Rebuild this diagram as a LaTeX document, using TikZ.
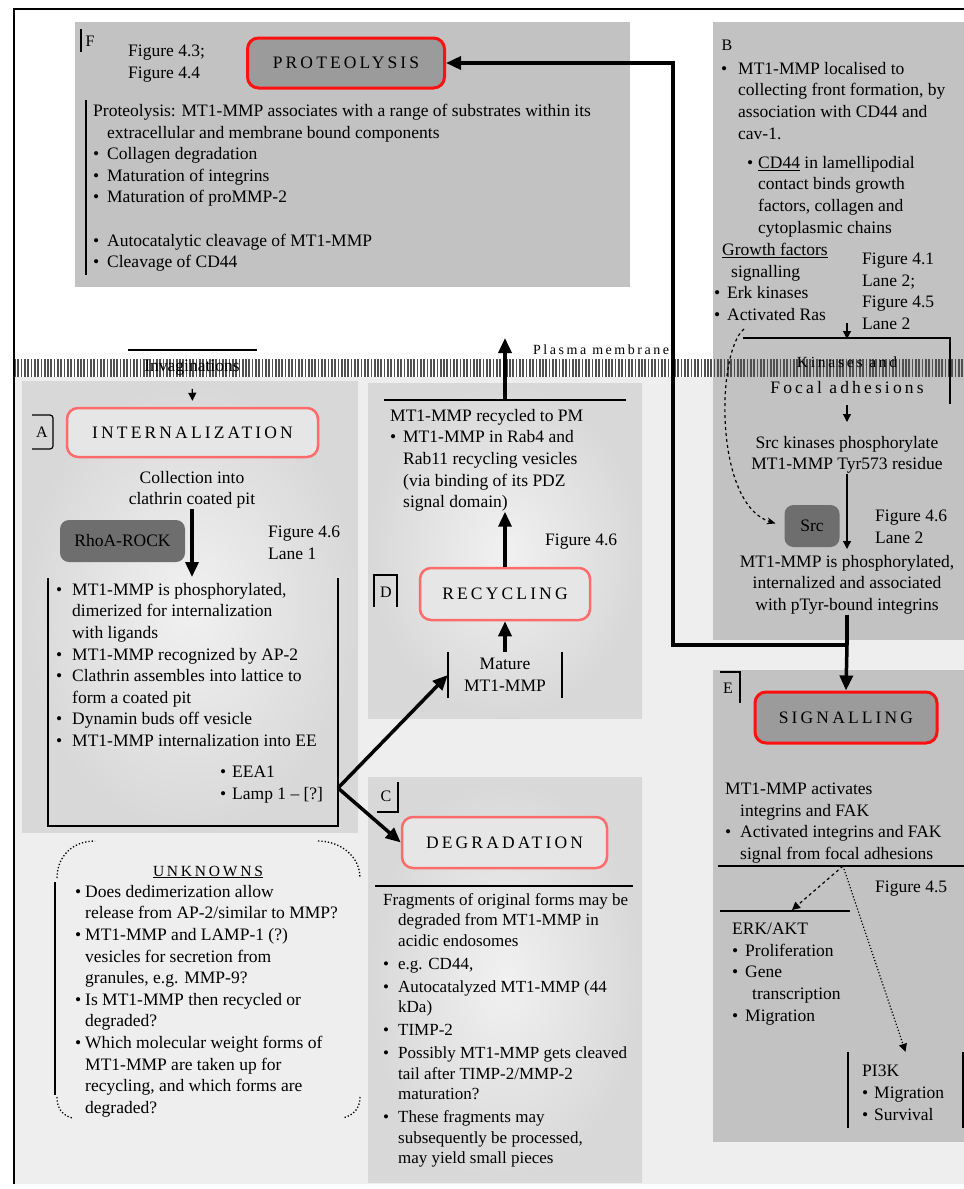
\documentclass[tikz,border=0pt]{standalone}
\usepackage{fontspec}
\setmainfont{Liberation Serif}
\newfontfamily\spacedfont{Liberation Serif}[LetterSpace=18]
\usetikzlibrary{arrows.meta}

\definecolor{panelDark}{HTML}{C2C2C2}
\definecolor{panelIn}{HTML}{F1F1F1}
\definecolor{panelOut}{HTML}{D8D8D8}
\definecolor{bgLight}{HTML}{EEEEEE}
\definecolor{hdrDarkFill}{HTML}{9B9B9B}
\definecolor{hdrLightFill}{HTML}{E6E6E6}
\definecolor{kinaseFill}{HTML}{6E6E6E}
\definecolor{hdrRed}{HTML}{FF1010}
\definecolor{hdrPink}{HTML}{FF6B6B}
\definecolor{stripeGray}{HTML}{505050}

\newcommand{\bodyfont}{\fontsize{17.5}{21.6}\selectfont}
\newcommand{\hdrfont}{\spacedfont\fontsize{17.5}{20}\selectfont}
\newcommand{\bitem}[1][15pt]{\makebox[#1][l]{\textbullet}}
\newcommand{\bcont}[1][15pt]{\hspace*{#1}}

\begin{document}
\begin{tikzpicture}[x=1pt,y=-1pt,
  blk/.style={anchor=north west, inner sep=0pt, align=left, font=\bodyfont},
  cblk/.style={anchor=north, inner sep=0pt, align=center, font=\bodyfont},
  hdr/.style={rounded corners=11pt, font=\hdrfont, inner sep=2pt},
  hdrdark/.style={hdr, fill=hdrDarkFill, draw=hdrRed, line width=3pt},
  hdrlight/.style={hdr, fill=hdrLightFill, draw=hdrPink, line width=2.5pt},
  knode/.style={rounded corners=9pt, fill=kinaseFill, font=\bodyfont, inner sep=2pt},
  tagtext/.style={font=\fontsize{16}{18}\selectfont, inner sep=0pt},
  rule/.style={line width=1.5pt},
  thickline/.style={line width=3.5pt},
  thickarr/.style={line width=3.5pt, -{Triangle[length=15pt,width=13pt]}},
  thinarr/.style={line width=1.2pt, -{Triangle[length=8pt,width=8pt]}},
  stripe/.style={line width=1.7pt, stripeGray}]

\useasboundingbox (0,0) rectangle (964,1189);

% ---------- backgrounds ----------
\fill[white] (0,0) rectangle (964,1189);
\fill[bgLight] (14,377) rectangle (964,1184);

\fill[panelDark] (75,22) rectangle (630,287);
\fill[panelDark] (713,22) rectangle (964,640);
\fill[panelDark] (713,670) rectangle (964,1142);
\shade[inner color=panelIn, outer color=panelOut] (22,381) rectangle (358,832);
\shade[inner color=panelIn, outer color=panelOut] (368,383) rectangle (642,718);
\shade[inner color=panelIn, outer color=panelOut] (368,777) rectangle (642,1182);

% ---------- plasma membrane band ----------
\foreach \x in {15,18.3,...,963} \draw[stripe] (\x,359) -- (\x,377);

% ---------- outer frame ----------
\draw[line width=1.2pt] (14,1184) -- (14,9) -- (964,9);

% ---------- F: proteolysis ----------
\node[tagtext] (tagF) at (90,41) {F};
\draw[line width=1.2pt] (81,29) -- (81,52);
\node[blk] (figF) at (128,45) {Figure 4.3;\\Figure 4.4};
\node[hdrdark, minimum width=197pt, minimum height=50pt] (proteolysis) at (346,63) {PROTEOLYSIS};
\draw[rule] (86,100) -- (86,275);
\node[blk] (protText) at (93,104) {Proteolysis: MT1-MMP associates with a range of substrates within its\\
  \bcont[14pt]extracellular and membrane bound components\\
  \bitem[14pt]Collagen degradation\\
  \bitem[14pt]Maturation of integrins\\
  \bitem[14pt]Maturation of proMMP-2\\[21.6pt]
  \bitem[14pt]Autocatalytic cleavage of MT1-MMP\\
  \bitem[14pt]Cleavage of CD44};

% ---------- B: localisation and focal adhesions ----------
\node[tagtext] (tagB) at (727,45) {B};
\node[blk] (locText) at (721,62) {\bitem[17pt]MT1-MMP localised to\\
  \bcont[17pt]collecting front formation, by\\
  \bcont[17pt]association with CD44 and\\
  \bcont[17pt]cav-1.};
\node[blk] (cdText) at (747,156) {\bitem[11pt]\underline{CD44} in lamellipodial\\
  \bcont[11pt]contact binds growth\\
  \bcont[11pt]factors, collagen and\\
  \bcont[11pt]cytoplasmic chains};
\node[blk] (gfText) at (714,243) {\hspace*{8pt}\underline{Growth factors}\\
  \hspace*{17pt}signalling\\
  \bitem[13pt]Erk kinases\\
  \bitem[13pt]Activated Ras};
\node[blk] (figB) at (862,253) {Figure 4.1\\Lane 2;\\Figure 4.5\\Lane 2};

\draw[rule] (743,338) -- (950,338) -- (950,404);
\coordinate (kinIn) at (847,323);
\coordinate (kinTop) at (847,339);
\draw[thinarr] (kinIn) -- (kinTop);

\node[inner sep=1pt, font=\spacedfont\fontsize{15.5}{18}\selectfont] (kinases) at (847,362) {Kinases and};
\node[inner sep=1pt, font=\spacedfont\fontsize{17.5}{20}\selectfont] (focal) at (847,388) {Focal adhesions};
\node[cblk] (srcA) at (847,436) {Src kinases phosphorylate\\MT1-MMP Tyr573 residue};
\draw[thinarr, shorten <=10pt, shorten >=14pt] (focal.south) -- (srcA.north);

\node[knode, minimum width=55pt, minimum height=42pt] (src) at (812,526) {Src};
\node[blk] (figSrc) at (875,510) {Figure 4.6\\Lane 2};
\node[cblk] (srcB) at (847,555) {MT1-MMP is phosphorylated,\\internalized and associated\\with pTyr-bound integrins};
\draw[thinarr, shorten >=6pt] (srcA.south) -- (srcB.north);

\coordinate (rasEnd) at (744,329);
\draw[dashed, line width=1.2pt, -{Stealth[length=9pt,width=7pt]}, shorten >=9pt]
  (rasEnd) .. controls (716,352) and (714,505) .. (src.west);

% ---------- E: signalling ----------
\node[tagtext] (tagE) at (728,688) {E};
\draw[line width=1.2pt] (720,672) -- (740,672) -- (740,703);
\node[hdrdark, minimum width=182pt, minimum height=51pt] (signalling) at (846,717.5) {SIGNALLING};

\coordinate (sigJ) at (847,645);
\coordinate (protTurn) at (673,645);
\draw[thickline] (srcB.south) -- (sigJ);
\draw[thickarr] (sigJ) -- (signalling.north);
\draw[thickarr] (sigJ) -- (protTurn) |- (proteolysis.east);

\node[blk] (sigText) at (725,783) {MT1-MMP activates\\
  \hspace*{15pt}integrins and FAK\\
  \bitem Activated integrins and FAK\\
  \bcont signal from focal adhesions};
\draw[rule] (718,866) -- (964,866);
\coordinate (sigFork) at (843,866);
\node[blk] (figE) at (875,881) {Figure 4.5};

\draw[rule] (720,911) -- (850,911);
\coordinate (erkTop) at (792,910);
\draw[dashed, thinarr] (sigFork) -- (erkTop);
\node[blk] (erkText) at (732,923) {ERK/AKT\\
  \bitem[13pt]Proliferation\\
  \bitem[13pt]Gene\\
  \bcont[20pt]transcription\\
  \bitem[13pt]Migration};

\node[minimum width=115pt, minimum height=76pt, inner sep=0pt] (pi3k) at (905.5,1090) {};
\draw[rule] (pi3k.north west) -- (pi3k.south west) (pi3k.north east) -- (pi3k.south east);
\draw[dotted, thinarr] (sigFork) -- (pi3k.north);
\node[blk] (pi3kText) at (862,1065) {PI3K\\ \bitem[12pt]Migration\\ \bitem[12pt]Survival};

% ---------- A: internalization ----------
\draw[rule] (128,350) -- (257,350);
\node[font=\bodyfont, inner sep=1pt] (invag) at (192,368) {Invaginations};
\node[tagtext] (tagA) at (42,432) {A};
\draw[line width=1.2pt, rounded corners=3pt] (32,415) -- (53,415) -- (53,449) -- (32,449);
\node[hdrlight, minimum width=251pt, minimum height=49pt] (internalization) at (192.5,432.5) {INTERNALIZATION};
\draw[thinarr, shorten <=12pt, shorten >=6pt] (invag.south) -- (internalization.north);

\node[cblk] (collect) at (192,471) {Collection into\\clathrin coated pit};
\node[knode, minimum width=125pt, minimum height=42pt] (rhoa) at (122.5,541) {RhoA-ROCK};
\coordinate (bracketTop) at (192,577);
\draw[thickarr] (collect.south) -- (bracketTop);
\node[blk] (figA) at (268,526) {Figure 4.6\\Lane 1};

\draw[rule] (48,578) -- (48,826) -- (338,826) -- (338,578);
\node[blk] (intText) at (56,583) {\bitem[16pt]MT1-MMP is phosphorylated,\\
  \bcont[16pt]dimerized for internalization\\
  \bcont[16pt]with ligands\\
  \bitem[16pt]MT1-MMP recognized by AP-2\\
  \bitem[16pt]Clathrin assembles into lattice to\\
  \bcont[16pt]form a coated pit\\
  \bitem[16pt]Dynamin buds off vesicle\\
  \bitem[16pt]MT1-MMP internalization into EE};
\node[blk] (eeText) at (220,766) {\bitem[12pt]EEA1\\ \bitem[12pt]Lamp 1 -- [?]};

% ---------- D: recycling ----------
\node[font=\bodyfont, align=center, minimum width=114pt, minimum height=46pt, inner sep=0pt] (mature) at (505,675) {Mature\\MT1-MMP};
\draw[rule] (mature.north west) -- (mature.south west) (mature.north east) -- (mature.south east);
\node[tagtext] (tagD) at (386,592) {D};
\draw[line width=1.2pt] (374,607) -- (374,575) -- (397,575) -- (397,607);
\node[hdrlight, minimum width=170pt, minimum height=52pt] (recycling) at (505,594) {RECYCLING};
\draw[thickarr] (mature.north) -- (recycling.south);

\draw[rule] (384,400) -- (626,400);
\node[blk] (recText) at (390,409) {MT1-MMP recycled to PM\\
  \bitem[13pt]MT1-MMP in Rab4 and\\
  \bcont[13pt]Rab11 recycling vesicles\\
  \bcont[13pt](via binding of its PDZ\\
  \bcont[13pt]signal domain)};
\node[blk] (figRec) at (545,534) {Figure 4.6};
\draw[thickarr] (recycling.north) -- (recycling.north |- recText.south);
\coordinate (recTop) at (505,400);
\coordinate (pmOut) at (505,338);
\draw[thickarr] (recTop) -- (pmOut);
\node[anchor=base west, inner sep=0pt, font=\spacedfont\fontsize{14}{16}\selectfont] (pmLabel) at (533,354) {Plasma membrane};

% ---------- C: degradation ----------
\node[tagtext] (tagC) at (386,796) {C};
\draw[line width=1.2pt] (398,782) -- (398,812) -- (377,812);
\node[hdrlight, minimum width=205pt, minimum height=51pt] (degradation) at (504.5,842.5) {DEGRADATION};
\draw[rule] (375,886) -- (633,886);
\node[blk, font=\fontsize{17}{20.5}\selectfont] (degText) at (383,893) {Fragments of original forms may be\\
  \bcont degraded from MT1-MMP in\\
  \bcont acidic endosomes\\[2.5pt]
  \bitem e.g. CD44,\\[2.5pt]
  \bitem Autocatalyzed MT1-MMP (44\\
  \bcont kDa)\\[2.5pt]
  \bitem TIMP-2\\[2.5pt]
  \bitem Possibly MT1-MMP gets cleaved\\
  \bcont tail after TIMP-2/MMP-2\\
  \bcont maturation?\\[2.5pt]
  \bitem These fragments may\\
  \bcont subsequently be processed,\\
  \bcont may yield small pieces};

% ---------- branches out of internalization ----------
\coordinate (fork) at (338,788);
\draw[thickarr] (fork) -- (mature.west);
\draw[thickarr] (fork) -- (degradation.west);

% ---------- unknowns ----------
\draw[dotted, line width=1.3pt] (57,878) .. controls (57,856) and (73,841) .. (95,841);
\draw[dotted, line width=1.3pt] (318,841) .. controls (340,841) and (360,856) .. (360,878);
\draw[dotted, line width=1.3pt] (57,1097) .. controls (57,1108) and (62,1115) .. (72,1118);
\draw[dotted, line width=1.3pt] (360,1097) .. controls (360,1108) and (354,1115) .. (343,1118);
\draw[rule] (55,882) -- (55,1095);
\node[anchor=base, inner sep=0pt, font=\spacedfont\fontsize{15.5}{18}\selectfont] (unkTitle) at (208,876) {\underline{UNKNOWNS}};
\node[blk] (unkText) at (75,885) {\bitem[10pt]Does dedimerization allow\\
  \bcont[10pt]release from AP-2/similar to MMP?\\
  \bitem[10pt]MT1-MMP and LAMP-1 (?)\\
  \bcont[10pt]vesicles for secretion from\\
  \bcont[10pt]granules, e.g. MMP-9?\\
  \bitem[10pt]Is MT1-MMP then recycled or\\
  \bcont[10pt]degraded?\\
  \bitem[10pt]Which molecular weight forms of\\
  \bcont[10pt]MT1-MMP are taken up for\\
  \bcont[10pt]recycling, and which forms are\\
  \bcont[10pt]degraded?};

\end{tikzpicture}
\end{document}
